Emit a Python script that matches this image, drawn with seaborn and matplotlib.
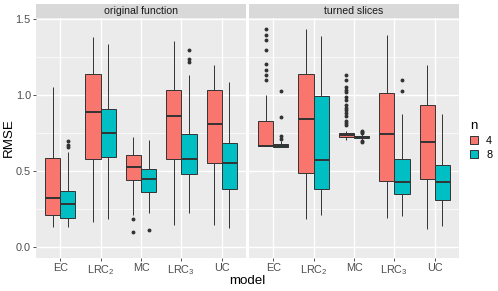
import pandas as pd
import seaborn as sns
import matplotlib.pyplot as plt
from matplotlib.patches import Patch

plt.rcParams['font.family'] = ['Liberation Sans', 'DejaVu Sans']
plt.rcParams['mathtext.fontset'] = 'custom'
plt.rcParams['mathtext.rm'] = 'Liberation Sans'
plt.rcParams['mathtext.it'] = 'Liberation Sans:italic'

models = ['EC', 'LRC2', 'MC', 'LRC3', 'UC']
model_labels = ['EC', 'LRC$_2$', 'MC', 'LRC$_3$', 'UC']
panels = ['original function', 'turned slices']
sizes = ['4', '8']
colors = {'4': '#F8766D', '8': '#00BFC4'}

# box summaries: (whisker low, q1, median, q3, whisker high), one per model
orig_n4 = [(0.132, 0.207, 0.324, 0.588, 1.050),
           (0.161, 0.577, 0.885, 1.139, 1.380),
           (0.210, 0.440, 0.524, 0.606, 0.720),
           (0.143, 0.577, 0.863, 1.035, 1.354),
           (0.143, 0.553, 0.806, 1.033, 1.196)]
orig_n8 = [(0.132, 0.192, 0.284, 0.368, 0.625),
           (0.183, 0.590, 0.749, 0.909, 1.337),
           (0.220, 0.361, 0.449, 0.513, 0.705),
           (0.220, 0.478, 0.579, 0.744, 1.132),
           (0.121, 0.383, 0.551, 0.683, 1.086)]
turn_n4 = [(0.667, 0.667, 0.667, 0.828, 1.000),
           (0.185, 0.485, 0.841, 1.141, 1.436),
           (0.705, 0.724, 0.738, 0.752, 0.764),
           (0.187, 0.436, 0.744, 1.011, 1.398),
           (0.117, 0.449, 0.690, 0.931, 1.200)]
turn_n8 = [(0.655, 0.660, 0.667, 0.675, 0.695),
           (0.209, 0.383, 0.573, 0.993, 1.387),
           (0.706, 0.716, 0.722, 0.728, 0.740),
           (0.200, 0.348, 0.425, 0.577, 0.874),
           (0.139, 0.310, 0.427, 0.540, 0.874)]

outliers = {
    ('original function', '4', 'MC'): [0.185, 0.100],
    ('original function', '8', 'EC'): [0.660, 0.672, 0.698],
    ('original function', '8', 'MC'): [0.110],
    ('original function', '8', 'LRC3'): [1.220, 1.238, 1.299],
    ('turned slices', '4', 'EC'): [1.099, 1.134, 1.167, 1.201, 1.295, 1.365, 1.398, 1.438],
    ('turned slices', '8', 'EC'): [0.712, 0.729, 0.855, 1.024],
    ('turned slices', '4', 'MC'): [0.800, 0.815, 0.832, 0.863, 0.881, 0.898, 0.914, 0.931,
                                   0.969, 0.987, 1.017, 1.035, 1.053, 1.101, 1.134],
    ('turned slices', '8', 'MC'): [0.690, 0.694, 0.750, 0.758, 0.765],
    ('turned slices', '8', 'LRC3'): [1.028, 1.099],
}

summaries = {('original function', '4'): orig_n4, ('original function', '8'): orig_n8,
             ('turned slices', '4'): turn_n4, ('turned slices', '8'): turn_n8}


def sample_from_summary(stats, out):
    # a small sample whose quartiles and whiskers give exactly this box
    lo, q1, med, q3, hi = stats
    low = sorted(v for v in out if v < lo)
    high = sorted(v for v in out if v > hi)
    k = max(len(low), len(high)) + 2
    return (low + [lo] + [q1] * (k - 1 - len(low)) + [q1] + [q1] * (k - 1) + [med]
            + [med] * (k - 1) + [q3] + [q3] * (k - 1 - len(high)) + [hi] + high)


rows = []
for (panel, n), boxes in summaries.items():
    for model, stats in zip(models, boxes):
        for v in sample_from_summary(stats, outliers.get((panel, n, model), [])):
            rows.append({'panel': panel, 'n': n, 'model': model, 'RMSE': v})
df = pd.DataFrame(rows)

W, H = 498, 291
fig = plt.figure(figsize=(W / 100, H / 100), dpi=100)
panel_left = [36, 249]
panel_w = 210
top, bottom = 17.6, 257.7

for i, panel in enumerate(panels):
    ax = fig.add_axes([panel_left[i] / W, (H - bottom) / H, panel_w / W, (bottom - top) / H])
    ax.set_facecolor('#EBEBEB')
    sns.boxplot(data=df[df['panel'] == panel], x='model', y='RMSE', hue='n',
                order=models, hue_order=sizes, palette=colors, saturation=1,
                width=0.75, gap=0, linecolor='#333333', linewidth=0.7, legend=False, ax=ax,
                medianprops=dict(linewidth=1.4, color='#333333'),
                capprops=dict(linewidth=0),
                flierprops=dict(marker='o', markersize=1.8, markerfacecolor='#333333',
                                markeredgecolor='#333333'))
    ax.set_xlim(-0.6, 4.6)
    ax.set_ylim(-0.072, 1.51)
    ax.set_xticks(range(len(models)))
    ax.set_xticklabels(model_labels)
    ax.set_yticks([0, 0.5, 1.0, 1.5])
    ax.set_yticklabels(['0.0', '0.5', '1.0', '1.5'])
    ax.set_yticks([0.25, 0.75, 1.25], minor=True)
    ax.grid(which='major', color='white', linewidth=1.0)
    ax.grid(which='minor', axis='y', color='white', linewidth=0.5)
    ax.set_axisbelow(True)
    for s in ax.spines.values():
        s.set_visible(False)
    ax.tick_params(which='major', length=2.2, width=0.6, color='#333333',
                   labelsize=7.8, labelcolor='#4D4D4D', pad=1.5)
    ax.tick_params(which='minor', length=0)
    if i == 1:
        ax.tick_params(axis='y', left=False, labelleft=False)
    ax.set_xlabel('')
    ax.set_ylabel('')

    strip = fig.add_axes([panel_left[i] / W, (H - top) / H, panel_w / W, 14 / H])
    strip.set_facecolor('#D9D9D9')
    strip.set_xticks([])
    strip.set_yticks([])
    for s in strip.spines.values():
        s.set_visible(False)
    strip.text(0.5, 0.45, panel, ha='center', va='center', fontsize=7.6, color='#1A1A1A',
               transform=strip.transAxes)

fig.text(247.5 / W, 1 - 281 / H, 'model', ha='center', va='center', fontsize=9.6)
fig.text(8.5 / W, 1 - 138 / H, 'RMSE', ha='center', va='center', rotation=90, fontsize=9.6)

handles = [Patch(facecolor=colors[n], edgecolor='#333333', linewidth=0.7) for n in sizes]
fig.legend(handles, sizes, title='n', loc='upper left', bbox_to_anchor=(466 / W, 1 - 116 / H),
           frameon=False, fontsize=7.8, title_fontsize=9.6, handlelength=0.75, handleheight=0.75,
           handletextpad=0.7, labelspacing=0.35, alignment='left', borderaxespad=0)

fig.savefig('out.png', dpi=100)
